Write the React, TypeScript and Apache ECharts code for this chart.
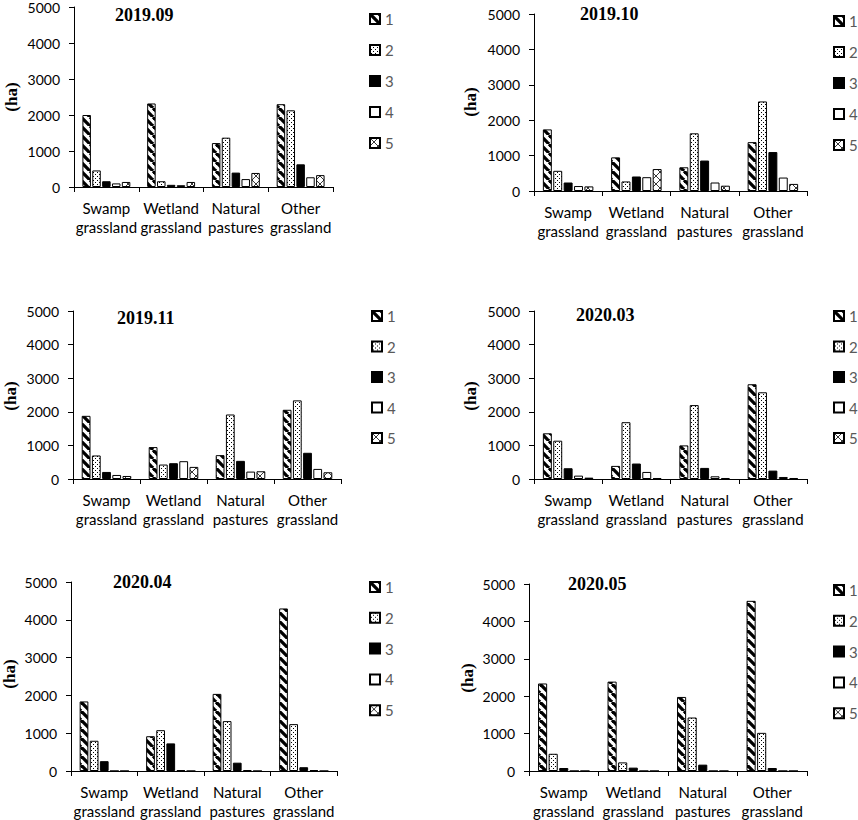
import React, { useEffect, useRef } from 'react';
import * as echarts from 'echarts';

// ---------- data ----------
const CATEGORIES = ['Swamp\ngrassland', 'Wetland\ngrassland', 'Natural\npastures', 'Other\ngrassland'];
const SERIES_NAMES = ['1', '2', '3', '4', '5'];
const PANEL_TITLES = ['2019.09', '2019.10', '2019.11', '2020.03', '2020.04', '2020.05'];
const Y_MIN = 0;
const Y_MAX = 5000;
const Y_STEP = 1000;
const Y_UNIT = '(ha)';

// each row: one series (1..5), values per category
const DATA_2019_09 = [
  [2000, 2320, 1220, 2300],
  [460, 160, 1370, 2130],
  [160, 60, 400, 630],
  [100, 50, 220, 270],
  [140, 140, 390, 330],
];
const DATA_2019_10 = [
  [1740, 950, 670, 1380],
  [570, 270, 1630, 2530],
  [240, 410, 860, 1100],
  [140, 390, 240, 380],
  [130, 620, 150, 200],
];
const DATA_2019_11 = [
  [1880, 950, 710, 2060],
  [700, 430, 1920, 2340],
  [210, 470, 540, 780],
  [120, 530, 220, 300],
  [90, 360, 230, 200],
];
const DATA_2020_03 = [
  [1360, 390, 1000, 2820],
  [1140, 1690, 2200, 2580],
  [320, 460, 330, 250],
  [100, 210, 80, 60],
  [40, 30, 30, 30],
];
const DATA_2020_04 = [
  [1840, 920, 2040, 4300],
  [800, 1080, 1320, 1240],
  [260, 730, 220, 100],
  [0, 20, 25, 25],
  [0, 0, 0, 0],
];
const DATA_2020_05 = [
  [2340, 2390, 1980, 4550],
  [460, 230, 1430, 1020],
  [80, 90, 170, 80],
  [0, 0, 0, 0],
  [0, 0, 0, 0],
];
const PANEL_DATA = [DATA_2019_09, DATA_2019_10, DATA_2019_11, DATA_2020_03, DATA_2020_04, DATA_2020_05];

// ---------- layout ----------
const GRIDS = [
  { left: 74, top: 5, width: 259, height: 182 },
  { left: 534, top: 14, width: 273, height: 177 },
  { left: 73, top: 311, width: 268, height: 168 },
  { left: 534, top: 311, width: 273, height: 168 },
  { left: 71, top: 582, width: 266, height: 189 },
  { left: 529, top: 584, width: 278, height: 187 },
];
const TITLE_POS = [
  { left: 115, top: 6 },
  { left: 580, top: 5 },
  { left: 117, top: 309 },
  { left: 576, top: 306 },
  { left: 113, top: 573 },
  { left: 568, top: 575 },
];
const LEGEND_POS = [
  { left: 369, top: 11, gap: 15 },
  { left: 833, top: 13, gap: 15 },
  { left: 371, top: 308, gap: 14.5 },
  { left: 833, top: 308, gap: 14.5 },
  { left: 369, top: 579, gap: 14.8 },
  { left: 833, top: 582, gap: 14.8 },
];
const YNAME_POS = [
  { x: 11, y: 97 },
  { x: 470, y: 102 },
  { x: 10, y: 396 },
  { x: 470, y: 396 },
  { x: 9, y: 674 },
  { x: 467, y: 678 },
];

function makePattern(kind: string) {
  const s = kind === 'stripe' ? 9 : kind === 'dots' ? 4 : 8;
  const c = document.createElement('canvas');
  c.width = s;
  c.height = s;
  const ctx = c.getContext('2d')!;
  ctx.fillStyle = '#fff';
  ctx.fillRect(0, 0, s, s);
  if (kind === 'stripe') {
    ctx.strokeStyle = '#000';
    ctx.lineWidth = 3.3;
    for (let k = -1; k <= 1; k++) {
      ctx.beginPath();
      ctx.moveTo(k * s, 0);
      ctx.lineTo(k * s + s, s);
      ctx.stroke();
    }
  } else if (kind === 'dots') {
    ctx.fillStyle = '#000';
    ctx.fillRect(1, 0, 1, 1);
    ctx.fillRect(3, 2, 1, 1);
  } else {
    ctx.strokeStyle = '#222';
    ctx.lineWidth = 0.9;
    ctx.beginPath();
    ctx.moveTo(0, 0);
    ctx.lineTo(s, s);
    ctx.moveTo(s, 0);
    ctx.lineTo(0, s);
    ctx.stroke();
  }
  return { image: c.toDataURL(), repeat: 'repeat', imageWidth: s, imageHeight: s };
}

export default function App() {
  const ref = useRef<HTMLDivElement>(null);
  useEffect(() => {
    document.body.style.margin = '0';
    if (!ref.current) return;
    const chart = echarts.init(ref.current, null, { renderer: 'svg' });
    const fills: any[] = [makePattern('stripe'), makePattern('dots'), '#000', '#fff', makePattern('cross')];
    const font = 'Lato, "Open Sans", sans-serif';
    const serif = '"Liberation Serif", "Times New Roman", serif';

    const series: any[] = [];
    PANEL_DATA.forEach((panel, p) => {
      SERIES_NAMES.forEach((name, k) => {
        series.push({
          type: 'bar',
          name,
          xAxisIndex: p,
          yAxisIndex: p,
          data: panel[k],
          barGap: '16%',
          barCategoryGap: '26%',
          itemStyle: { color: fills[k], borderColor: '#000', borderWidth: 1 },
          emphasis: { disabled: true },
        });
      });
    });

    const option: any = {
      animation: false,
      backgroundColor: '#fff',
      title: PANEL_TITLES.map((t, p) => ({
        text: t,
        left: TITLE_POS[p].left,
        top: TITLE_POS[p].top,
        padding: 0,
        textStyle: { fontFamily: serif, fontWeight: 'bold', fontSize: 18, color: '#000' },
      })),
      legend: LEGEND_POS.map((l) => ({
        data: SERIES_NAMES,
        orient: 'vertical',
        left: l.left,
        top: l.top,
        padding: 0,
        itemWidth: 10,
        itemHeight: 10,
        itemGap: l.gap,
        icon: 'rect',
        selectedMode: false,
        textStyle: { color: '#595959', fontFamily: font, fontSize: 15, lineHeight: 16 },
      })),
      grid: GRIDS.map((g) => ({ ...g, containLabel: false })),
      xAxis: GRIDS.map((_, p) => ({
        type: 'category',
        gridIndex: p,
        data: CATEGORIES,
        axisLine: { lineStyle: { color: '#000', width: 1 } },
        axisTick: { show: true, length: 5, alignWithLabel: false, lineStyle: { color: '#000' } },
        axisLabel: { color: '#000', fontFamily: font, fontSize: 15, lineHeight: 19, margin: 11, interval: 0 },
        splitLine: { show: false },
      })),
      yAxis: GRIDS.map((_, p) => ({
        type: 'value',
        gridIndex: p,
        min: Y_MIN,
        max: Y_MAX,
        interval: Y_STEP,
        axisLine: { show: true, lineStyle: { color: '#000', width: 1 } },
        axisTick: { show: true, length: 5, lineStyle: { color: '#000' } },
        axisLabel: {
          color: '#000',
          fontFamily: font,
          fontSize: 14,
          margin: 14,
          formatter: (v: number) => String(v),
        },
        splitLine: { show: false },
      })),
      graphic: YNAME_POS.map((pos) => ({
        type: 'text',
        x: pos.x,
        y: pos.y,
        rotation: Math.PI / 2,
        style: {
          text: Y_UNIT,
          fontFamily: serif,
          fontWeight: 'bold',
          fontSize: 17,
          fill: '#000',
          align: 'center',
          verticalAlign: 'middle',
        },
      })),
      series,
    };
    chart.setOption(option);
    return () => chart.dispose();
  }, []);
  return <div ref={ref} style={{ width: 858, height: 820 }} />;
}
